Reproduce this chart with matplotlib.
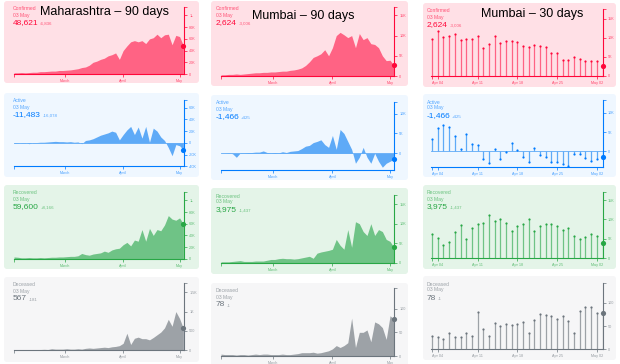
import pandas as pd
import matplotlib
matplotlib.use('Agg')
import matplotlib.pyplot as plt
from matplotlib.colors import to_rgba
from matplotlib.patches import FancyBboxPatch

plt.rcParams['font.family'] = ['Liberation Sans', 'DejaVu Sans']

W, H = 620, 364

# two-day samples over the 90 day window, daily over the 30 day window
dates90 = pd.date_range('2020-02-03', '2020-05-03', freq='2D')
dates30 = pd.date_range('2020-04-03', '2020-05-03')

# Maharashtra, 90 days (thousands; deceased in units)
mh_confirmed = [2, 2, 2.5, 2, 2.5, 3, 3, 4, 4, 4.5, 5, 5, 6, 6, 6.5, 7, 8, 9, 11, 12,
                15, 20, 22, 25, 27, 31, 33, 36, 25, 40, 48, 55, 57, 55, 57, 52, 60, 62,
                68, 62, 67, 68, 50, 66, 64, 48.621]
mh_active = [-1, -0.5, 0.5, 0.5, -1.5, 0.5, 0.5, 1, 1, 1.5, 2, 2.5, 2, 2, 1.5, 2, 1, 1.5,
             -1.5, 4, 5, 7, 10, 13, 15, 17, 20, 18, 5, 14, 22, 28, 14, 27, 8, 28, 1, 25,
             20, 10, 4, -8, -22, -3, -5, -11.483]
mh_recovered = [3, 2.5, 1.5, 1.5, 2, 1.5, 1.5, 2, 1.5, 2, 2.5, 2.5, 3, 3, 3.5, 4, 4, 5, 9,
                7, 6, 8, 9, 10, 13, 11, 15, 17, 18, 24, 28, 22, 32, 30, 50, 30, 52, 40,
                50, 48, 58, 74, 68, 66, 70, 59.6]
mh_deceased = [20, 20, 15, 20, 15, 20, 20, 20, 25, 20, 40, 30, 30, 30, 40, 30, 30, 40, 30,
               50, 60, 50, 60, 70, 80, 70, 90, 100, 120, 180, 440, 150, 310, 340, 300,
               300, 270, 330, 400, 470, 580, 800, 620, 1000, 820, 567]

# Mumbai, 90 days
mb_confirmed = [0.3, 0.3, 0.4, 0.4, 0.5, 0.4, 0.5, 0.6, 0.7, 0.8, 0.8, 0.9, 0.9, 1.0, 1.0,
                1.1, 1.2, 1.2, 1.4, 1.5, 1.7, 2.0, 2.6, 3.5, 4.6, 5.0, 5.5, 6.5, 5.0, 7.0,
                10.0, 10.8, 10.2, 9.5, 10.0, 7.0, 10.5, 9.0, 9.5, 8.0, 7.8, 7.0, 5.0, 3.8,
                3.9, 2.624]
mb_active = [0, 0, 0.1, -0.1, -1.0, 0.1, 0.1, 0.2, 0.2, 0.3, 0.3, 0.6, 0.2, 0.1, 0.2, 0.1,
             0.4, 0.2, 0.5, 0.6, 0.7, 1.2, 1.8, 2.0, 2.7, 3.0, 3.4, 2.2, 1.5, 4.5, 1.0,
             6.0, 5.0, 3.0, 1.0, -2.5, -1.0, 1.5, -1.0, -2.5, 0, -2.0, -3.5, -2.5, -2.0,
             -1.466]
mb_recovered = [0.3, 0.3, 0.3, 0.4, 0.5, 0.6, 0.4, 0.4, 0.4, 0.5, 0.5, 0.5, 0.7, 0.9, 0.9,
                1.1, 1.2, 1.1, 1.1, 1.0, 1.1, 1.3, 1.5, 1.7, 1.2, 2.5, 2.8, 3.0, 3.2, 3.5,
                6.0, 4.5, 3.5, 8.5, 4.0, 10.5, 10.0, 8.0, 7.0, 10.0, 7.0, 8.5, 8.0, 6.0,
                5.5, 3.975]
mb_deceased = [4, 3, 3, 3, 2, 3, 3, 2, 3, 4, 3, 4, 4, 3, 3, 3, 4, 3, 3, 4, 5, 7, 7, 7, 8,
               6, 7, 9, 11, 15, 22, 18, 22, 28, 80, 18, 50, 50, 55, 30, 72, 68, 60, 35,
               85, 78]

# Mumbai, 30 days
mb30_confirmed = [9.6, 11.7, 10.3, 10.4, 10.9, 9.4, 9.6, 9.7, 10.4, 7.3, 8.3, 10.4, 8.7,
                  9.1, 9.1, 8.9, 7.8, 7.5, 8.0, 7.7, 7.5, 6.1, 5.9, 4.1, 4.1, 5.0, 4.4,
                  4.0, 4.0, 3.8, 2.624]
mb30_active = [3.3, 6.0, 6.7, 6.2, 4.0, 0.6, 4.6, 1.8, 1.6, -2.1, -3.1, 0.6, -1.9, -0.3,
               2.2, 0.3, -1.5, -2.7, 0.9, -0.9, -1.5, -2.9, -2.8, -3.3, -3.8, -0.8, -0.8,
               -1.8, -2.4, -2.1, -1.466]
mb30_recovered = [6.1, 5.3, 3.5, 4.1, 6.7, 8.6, 4.9, 7.8, 8.7, 9.0, 11.1, 9.5, 10.2, 9.2,
                  6.9, 8.4, 8.9, 10.0, 7.0, 8.3, 8.8, 8.9, 8.3, 7.2, 7.7, 5.6, 4.9, 5.5,
                  6.3, 5.6, 3.975]
mb30_deceased = [29, 26, 22, 34, 26, 26, 36, 29, 81, 44, 29, 56, 51, 54, 52, 54, 59, 36,
                 63, 76, 74, 72, 66, 72, 60, 36, 83, 90, 91, 79, 78]

# header numbers shown in each card
mh_totals = {'Confirmed': ('48,621', '-6,836'), 'Active': ('-11,483', '-16,078'),
             'Recovered': ('59,600', '+8,166'), 'Deceased': ('567', '-181')}
mb_totals = {'Confirmed': ('2,624', '-3,006'), 'Active': ('-1,466', '+425'),
             'Recovered': ('3,975', '-1,437'), 'Deceased': ('78', '-1')}

titles = ['Maharashtra \u2013 90 days', 'Mumbai \u2013 90 days', 'Mumbai \u2013 30 days']

kinds = ['Confirmed', 'Active', 'Recovered', 'Deceased']

k_ticks = [0, 20, 40, 60, 80, 100]
k_labels = ['0', '20K', '40K', '60K', '80K', '1L']
mh_axes = {
    'Confirmed': ((0, 114), k_ticks, k_labels),
    'Active': ((-40, 73), [-40, -20, 0, 20, 40, 60], ['-40K', '-20K', '0', '20K', '40K', '60K']),
    'Recovered': ((0, 115), k_ticks, k_labels),
    'Deceased': ((0, 1730), [0, 500, 1000, 1500], ['0', '500', '1K', '1.5K']),
}
mb_ticks = [0, 5, 10, 15]
mb_labels = ['0', '5K', '10K', '15K']
mb_axes = {
    'Confirmed': ((0, 17), mb_ticks, mb_labels),
    'Active': ((-4.2, 13), [0, 5, 10], ['0', '5K', '10K']),
    'Recovered': ((0, 17.3), mb_ticks, mb_labels),
    'Deceased': ((0, 143), [0, 50, 100], ['0', '50', '100']),
}
mb30_axes = {
    'Confirmed': ((0, 17.5), mb_ticks, mb_labels),
    'Active': ((-4, 13.3), [0, 5, 10], ['0', '5K', '10K']),
    'Recovered': ((0, 17.2), mb_ticks, mb_labels),
    'Deceased': ((0, 143), [0, 50, 100], ['0', '50', '100']),
}

STYLE = {
    'Confirmed': dict(bg='#ffe0e6', fill='#ff6384', line='#ff073a'),
    'Active': dict(bg='#eff7ff', fill='#5eaaf7', line='#007bff'),
    'Recovered': dict(bg='#e4f4e8', fill='#6fc386', line='#28a745'),
    'Deceased': dict(bg='#f6f6f7', fill='#9da2a7', line='#6c757d'),
}

# layout in pixels: card boxes, plot x-span, plot y-span per row
cols = [
    dict(box_x=(4, 199), ax_x=(14, 184.3), text_x=13,
         boxes=[(1, 83), (93, 177), (185, 269), (277, 362)],
         axes_y=[(7.3, 74), (100, 166.3), (191.7, 258.7), (283.3, 350.3)]),
    dict(box_x=(211, 408), ax_x=(221, 394.3), text_x=216,
         boxes=[(1, 86), (95, 180), (188, 274), (283, 368)],
         axes_y=[(7.3, 76), (101.7, 170), (195, 263), (288.3, 356)]),
    dict(box_x=(423, 616), ax_x=(430.7, 603), text_x=427,
         boxes=[(3, 87), (94, 177), (185, 269), (276, 360)],
         axes_y=[(9.3, 75.7), (100, 166.7), (191.7, 258), (282.7, 349.3)]),
]
title_pos = [(105, 12.5), (303, 16), (532, 13.5)]

fig = plt.figure(figsize=(6.2, 3.64), dpi=100)
bg = fig.add_axes([0, 0, 1, 1])
bg.set_xlim(0, W)
bg.set_ylim(H, 0)
bg.axis('off')


def fig_rect(x0, x1, y0, y1):
    return [x0 / W, 1 - y1 / H, (x1 - x0) / W, (y1 - y0) / H]


def draw_chart(ax, x, vals, kind, axcfg, stems, xlim, xticks, xlabels):
    c = STYLE[kind]
    ylim, ticks, labels = axcfg
    ax.set_facecolor('none')
    if kind == 'Active':
        ax.axhline(0, color=c['fill'], lw=0.6, zorder=1)
    if stems:
        ax.vlines(x, 0, vals, color=c['fill'], lw=0.9, zorder=2)
        ax.scatter(x[:-1], vals[:-1], s=2.5, color=c['line'], lw=0, zorder=3)
    else:
        ax.fill_between(x, vals, 0, color=c['fill'], lw=0, zorder=2)
    ax.scatter([x[-1]], [vals[-1]], s=14, color=c['line'], lw=0, zorder=4, clip_on=False)
    ax.set_ylim(*ylim)
    ax.set_xlim(*xlim)
    for s in ['top', 'left']:
        ax.spines[s].set_visible(False)
    for s in ['bottom', 'right']:
        ax.spines[s].set_color(c['line'])
        ax.spines[s].set_linewidth(0.8)
    ax.yaxis.tick_right()
    ax.set_yticks(list(ticks) + [ylim[1]])
    ax.set_yticklabels(list(labels) + [''])
    ax.set_xticks(xticks)
    ax.set_xticklabels(xlabels)
    lab = to_rgba(c['line'], 0.7)
    ax.tick_params(axis='both', length=2, width=0.5, color=c['line'],
                   labelcolor=lab, labelsize=2.7, pad=1.5)


renderer = fig.canvas.get_renderer()

d0 = dates90[0]
x90_ticks = [d0, pd.Timestamp('2020-03-01'), pd.Timestamp('2020-04-01'), pd.Timestamp('2020-05-01')]
x90_labels = ['', 'March', 'April', 'May']
x30_ticks = [dates30[0]] + list(pd.date_range('2020-04-04', '2020-05-02', freq='7D'))
x30_labels = [''] + ['Apr 04', 'Apr 11', 'Apr 18', 'Apr 25', 'May 02']

series = [
    (dates90, [mh_confirmed, mh_active, mh_recovered, mh_deceased], mh_axes, mh_totals, False,
     (d0, dates90[-1] + pd.Timedelta(hours=12)), x90_ticks, x90_labels),
    (dates90, [mb_confirmed, mb_active, mb_recovered, mb_deceased], mb_axes, mb_totals, False,
     (d0, dates90[-1] + pd.Timedelta(hours=5)), x90_ticks, x90_labels),
    (dates30, [mb30_confirmed, mb30_active, mb30_recovered, mb30_deceased], mb30_axes, mb_totals, True,
     (dates30[0] - pd.Timedelta(hours=6), dates30[-1] + pd.Timedelta(hours=2)), x30_ticks, x30_labels),
]

for ci, (x, vals_list, axcfgs, totals, stems, xlim, xt, xl) in enumerate(series):
    col = cols[ci]
    for ri, kind in enumerate(kinds):
        c = STYLE[kind]
        by0, by1 = col['boxes'][ri]
        bx0, bx1 = col['box_x']
        bg.add_patch(FancyBboxPatch((bx0, by0), bx1 - bx0, by1 - by0,
                                    boxstyle='round,pad=0,rounding_size=3',
                                    fc=c['bg'], ec='none'))
        ay0, ay1 = col['axes_y'][ri]
        ax = fig.add_axes(fig_rect(col['ax_x'][0], col['ax_x'][1], ay0, ay1))
        draw_chart(ax, x, vals_list[ri], kind, axcfgs[kind], stems, xlim, xt, xl)

        tx = col['text_x']
        light = to_rgba(c['line'], 0.65)
        bg.text(tx, by0 + 8, kind, color=light, fontsize=3.6, va='center', ha='left')
        bg.text(tx, by0 + 14, '03 May', color=light, fontsize=3.6, va='center', ha='left')
        big, delta = totals[kind]
        t = bg.text(tx, by0 + 22, big, color=c['line'], fontsize=6, va='center', ha='left')
        bb = t.get_window_extent(renderer)
        bg.text(tx + bb.width + 1.5, by0 + 22.8, delta, color=light, fontsize=3.2,
                va='center', ha='left')

for (tx, ty), title in zip(title_pos, titles):
    fig.text(tx / W, 1 - ty / H, title, fontsize=9, color='black', ha='center', va='center',
             zorder=10)

fig.savefig('out.png', dpi=100)
